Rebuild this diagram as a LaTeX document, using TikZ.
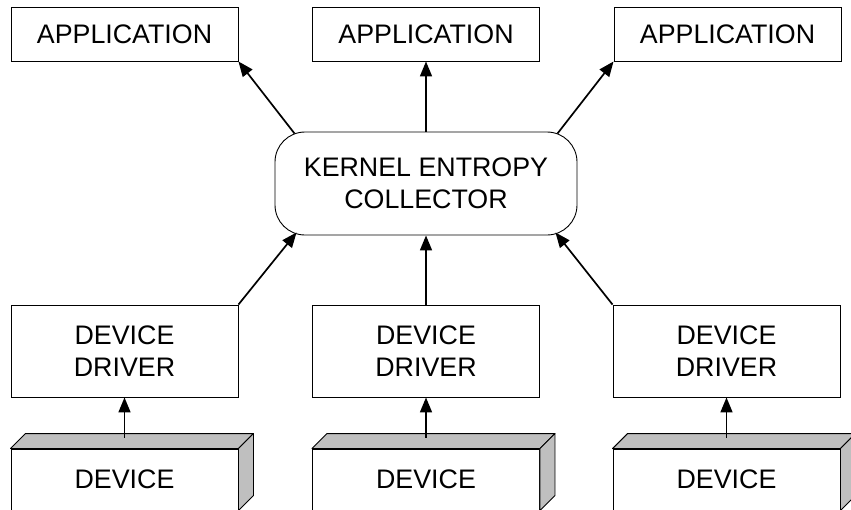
\documentclass[tikz,border=0pt]{standalone}
\usepackage{fontspec}
\setmainfont{Liberation Sans}
\usetikzlibrary{arrows.meta,calc}

\tikzset{
  box/.style={draw=black, line width=0.9pt, fill=white, rectangle,
    minimum width=227pt, inner sep=0pt, align=center,
    font=\fontsize{26.8pt}{32pt}\selectfont},
  appbox/.style={box, minimum height=54pt},
  drvbox/.style={box, minimum height=92pt},
  kernbox/.style={box, minimum width=302pt, minimum height=103pt, rounded corners=30pt},
  devface/.style={box, minimum height=61pt},
  devshade/.style={draw=black, line width=0.9pt, fill=black!25, line join=round},
  flow/.style={line width=1.7pt, -{Triangle[length=15pt,width=12pt]}}
}

\begin{document}
\begin{tikzpicture}[x=1pt, y=-1pt]
  \useasboundingbox (0,0) rectangle (851,509);
  \clip (0,0) rectangle (851,509);

  % applications
  \node[appbox] (app1) at (124.5,34) {APPLICATION};
  \node[appbox] (app2) at (426,34) {APPLICATION};
  \node[appbox] (app3) at (727.5,34) {APPLICATION};

  % collector
  \node[kernbox] (kern) at (426,183.5) {KERNEL ENTROPY\\COLLECTOR};

  % drivers
  \node[drvbox] (drv1) at (124.5,351) {DEVICE\\DRIVER};
  \node[drvbox] (drv2) at (426,351) {DEVICE\\DRIVER};
  \node[drvbox] (drv3) at (726.5,351) {DEVICE\\DRIVER};

  % devices: front face, shaded top and side
  \foreach \n/\cx in {dev1/124.5, dev2/426, dev3/726.5} {
    \node[devface] (\n) at (\cx,479.5) {DEVICE};
    \draw[devshade] (\n.north west) -- ++(15,-15) -- ($(\n.north east)+(15,-15)$)
      -- (\n.north east) -- cycle;
    \draw[devshade] (\n.north east) -- ++(15,-15) -- ($(\n.south east)+(15,-15)$)
      -- (\n.south east) -- cycle;
  }

  % attachment points on the collector outline
  \coordinate (kTL) at ($(kern.north west)+(20,2)$);
  \coordinate (kTR) at ($(kern.north east)+(-20,2)$);
  \coordinate (kBL) at ($(kern.south west)+(22,-3)$);
  \coordinate (kBR) at ($(kern.south east)+(-22,-3)$);

  % attachment points on the device tops
  \coordinate (s1) at ($(dev1.north)+(0,-11)$);
  \coordinate (s2) at ($(dev2.north)+(0,-11)$);
  \coordinate (s3) at ($(dev3.north)+(0,-11)$);

  % collector to applications
  \draw[flow] (kTL) -- (app1.south east);
  \draw[flow] (kern.north) -- (app2.south);
  \draw[flow] (kTR) -- (app3.south west);

  % drivers to collector
  \draw[flow] (drv1.north east) -- (kBL);
  \draw[flow] (drv2.north) -- (kern.south);
  \draw[flow] (drv3.north west) -- (kBR);

  % devices to drivers
  \draw[flow] (s1) -- (drv1.south);
  \draw[flow] (s2) -- (drv2.south);
  \draw[flow] (s3) -- (drv3.south);
\end{tikzpicture}
\end{document}
